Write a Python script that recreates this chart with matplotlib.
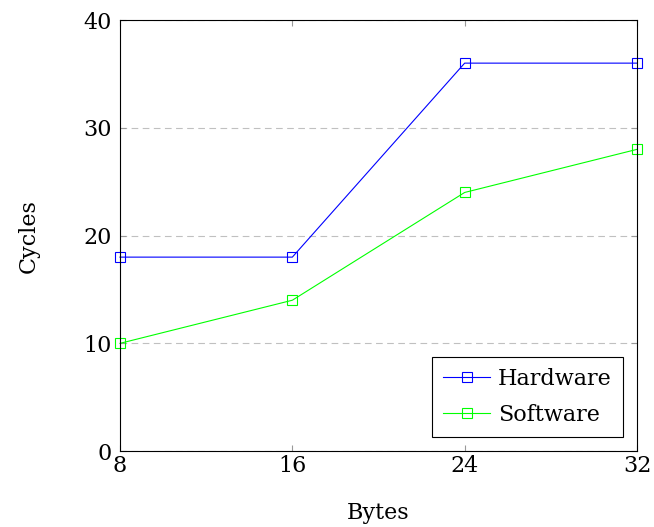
import matplotlib.pyplot as plt

plt.rcParams['font.family'] = ['DejaVu Serif']

bytes_x = [8, 16, 24, 32]
hardware = [18, 18, 36, 36]
software = [10, 14, 24, 28]

fig = plt.figure(figsize=(6.54, 5.27), dpi=100)
ax = fig.add_axes([0.1835, 0.144, 0.7905, 0.818])

ax.plot(bytes_x, hardware, color='blue', lw=0.8, marker='s', markersize=7.5,
        markerfacecolor='none', markeredgewidth=0.8, label='Hardware', clip_on=False)
ax.plot(bytes_x, software, color='#00ff00', lw=0.8, marker='s', markersize=7.5,
        markerfacecolor='none', markeredgewidth=0.8, label='Software', clip_on=False)

ax.set_xlim(8, 32)
ax.set_ylim(0, 40)
ax.set_xticks(bytes_x)
ax.set_yticks([0, 10, 20, 30, 40])
ax.yaxis.grid(True, linestyle=(0, (6, 4)), color='#c0c0c0', lw=0.8)
ax.tick_params(direction='in', labelsize=16, length=4, color='#999999',
               top=True, right=True)
ax.tick_params(axis='x', pad=3)
ax.tick_params(axis='y', pad=6)
for s in ax.spines.values():
    s.set_linewidth(0.8)

ax.set_xlabel('Bytes', fontsize=16, labelpad=18)
ax.set_ylabel('Cycles', fontsize=16, labelpad=31)

leg = ax.legend(loc='lower right', fontsize=16, fancybox=False, framealpha=1,
                edgecolor='black', handlelength=2.1, borderaxespad=0.65,
                handletextpad=0.35, labelspacing=0.6, borderpad=0.5)
leg.get_frame().set_linewidth(0.8)

fig.savefig('out.png', dpi=100)
